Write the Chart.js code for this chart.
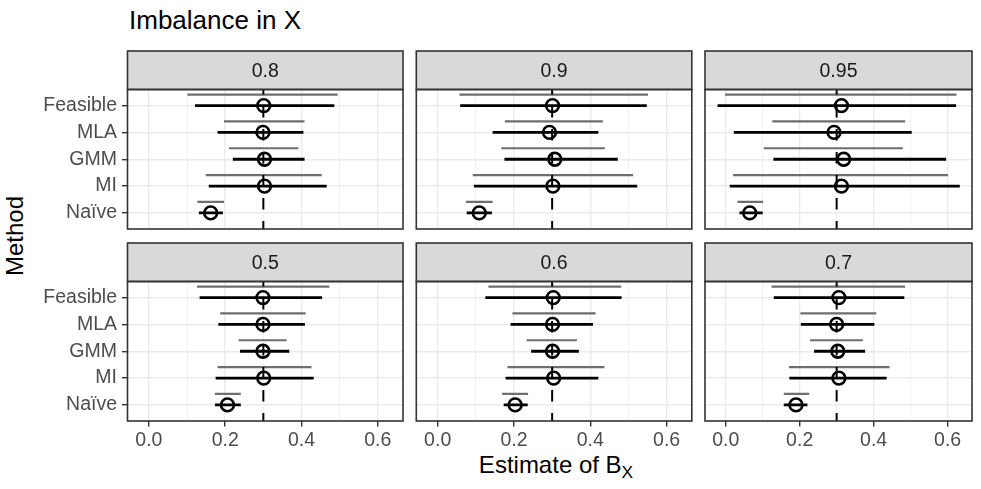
<!DOCTYPE html>
<html>
<head>
<meta charset="utf-8">
<script src="https://cdn.jsdelivr.net/npm/chart.js@4.4.1/dist/chart.umd.min.js"></script>
<style>
  body { margin: 0; background: #fff; }
  #wrap { position: relative; width: 981px; height: 489px; overflow: hidden; font-family: "Liberation Sans", Arial, sans-serif; }
  #wrap canvas { position: absolute; left: 0; top: 0; }
  .txt { position: absolute; white-space: nowrap; color: #000; line-height: 1; }
  sub { font-size: 72%; vertical-align: -0.3em; }
</style>
</head>
<body>
<div id="wrap">
  <div class="txt" style="left:129px; top:7px; font-size:26px;">Imbalance in X</div>
  <div class="txt" style="left:15px; top:236px; font-size:24px; transform:translate(-50%,-50%) rotate(-90deg);">Method</div>
  <div class="txt" style="left:556px; top:467px; font-size:24px; transform:translate(-50%,-50%);">Estimate of B<sub>X</sub></div>
</div>
<script>
// data
const methods = ['Feasible', 'MLA', 'GMM', 'MI', 'Naïve'];
const panelLabels = ['0.8', '0.9', '0.95', '0.5', '0.6', '0.7'];
const trueValue = 0.3;
const estimate = [
  [0.301, 0.299, 0.303, 0.303, 0.162],
  [0.301, 0.293, 0.307, 0.302, 0.109],
  [0.313, 0.293, 0.319, 0.313, 0.065],
  [0.299, 0.299, 0.299, 0.301, 0.206],
  [0.303, 0.301, 0.301, 0.304, 0.203],
  [0.306, 0.300, 0.303, 0.306, 0.190]
];
const blackLow = [
  [0.121, 0.180, 0.220, 0.157, 0.131],
  [0.059, 0.144, 0.175, 0.095, 0.076],
  [-0.022, 0.022, 0.129, 0.011, 0.037],
  [0.133, 0.182, 0.239, 0.175, 0.173],
  [0.125, 0.191, 0.245, 0.178, 0.173],
  [0.130, 0.203, 0.239, 0.172, 0.157]
];
const blackHigh = [
  [0.486, 0.405, 0.408, 0.466, 0.194],
  [0.548, 0.421, 0.472, 0.523, 0.142],
  [0.623, 0.503, 0.596, 0.633, 0.100],
  [0.454, 0.409, 0.368, 0.432, 0.241],
  [0.482, 0.407, 0.370, 0.421, 0.236],
  [0.483, 0.402, 0.377, 0.435, 0.221]
];
const greyLow = [
  [0.101, 0.197, 0.210, 0.149, 0.127],
  [0.057, 0.176, 0.167, 0.092, 0.074],
  [-0.002, 0.126, 0.103, 0.020, 0.032],
  [0.126, 0.187, 0.235, 0.180, 0.173],
  [0.133, 0.196, 0.233, 0.183, 0.169],
  [0.124, 0.202, 0.228, 0.171, 0.157]
];
const greyHigh = [
  [0.495, 0.408, 0.392, 0.453, 0.197],
  [0.551, 0.433, 0.438, 0.512, 0.144],
  [0.624, 0.485, 0.479, 0.601, 0.101],
  [0.473, 0.411, 0.361, 0.426, 0.241],
  [0.481, 0.414, 0.365, 0.437, 0.237],
  [0.485, 0.407, 0.371, 0.443, 0.226]
];
const xGrid = [0, 0.1, 0.2, 0.3, 0.4, 0.5, 0.6];

// layout of the 2x3 facet grid
const W = 981, H = 489;
const colLeft = [127.5, 416.3, 705];
const panelW = 275.5;
const stripTop = [51, 243];
const stripH = 38.5;
const panelH = 139.5;
const xAxisH = 36;
const font = '"Liberation Sans", Arial, sans-serif';

const isMajor = v => Math.round(v * 10) % 2 === 0;

// strip on top + dark border round the panel
const panelFrame = {
  id: 'panelFrame',
  afterDraw(chart, args, opts) {
    const { ctx, chartArea: a } = chart;
    ctx.save();
    ctx.fillStyle = '#D9D9D9';
    ctx.fillRect(a.left, a.top - stripH, a.width, stripH);
    ctx.strokeStyle = '#333333';
    ctx.lineWidth = 1.6;
    ctx.strokeRect(a.left, a.top - stripH, a.width, stripH);
    ctx.strokeRect(a.left, a.top, a.width, a.height);
    ctx.fillStyle = '#1A1A1A';
    ctx.font = '19.5px ' + font;
    ctx.textAlign = 'center';
    ctx.textBaseline = 'middle';
    ctx.fillText(opts.label, a.left + a.width / 2, a.top - stripH / 2 + 1);
    ctx.restore();
  }
};

function segments(lo, hi, shift) {
  const out = [];
  lo.forEach((v, i) => {
    const y = i + 1 + shift;
    out.push({ x: v, y: y }, { x: hi[i], y: y }, { x: hi[i], y: null });
  });
  return out;
}

const wrap = document.getElementById('wrap');

panelLabels.forEach((label, p) => {
  const r = p < 3 ? 0 : 1;
  const c = p % 3;
  const top = stripTop[r] + stripH;
  const yAxisW = c === 0 ? colLeft[0] : 0;
  const xH = r === 1 ? xAxisH : 0;
  const cv = document.createElement('canvas');
  cv.width = W;
  cv.height = H;
  wrap.appendChild(cv);

  new Chart(cv, {
    type: 'line',
    data: {
      datasets: [
        {
          data: estimate[p].map((v, i) => ({ x: v, y: i + 1 })),
          showLine: false,
          pointRadius: 6.4,
          pointBorderWidth: 2.6,
          pointBorderColor: '#000',
          pointBackgroundColor: 'rgba(0,0,0,0)',
          order: 0
        },
        {
          data: segments(blackLow[p], blackHigh[p], 0),
          borderColor: '#000',
          borderWidth: 2.8,
          pointRadius: 0,
          spanGaps: false,
          order: 1
        },
        {
          data: [{ x: trueValue, y: 5.6 }, { x: trueValue, y: 0.4 }],
          borderColor: '#000',
          borderWidth: 2,
          borderDash: [11.5, 11.5],
          borderDashOffset: 3.5,
          pointRadius: 0,
          order: 2
        },
        {
          data: segments(greyLow[p], greyHigh[p], -0.41),
          borderColor: '#6E6E6E',
          borderWidth: 2.2,
          pointRadius: 0,
          spanGaps: false,
          order: 3
        }
      ]
    },
    options: {
      responsive: false,
      animation: false,
      events: [],
      layout: {
        padding: {
          left: colLeft[c] - yAxisW,
          top: top,
          right: W - colLeft[c] - panelW,
          bottom: H - top - panelH - xH
        }
      },
      scales: {
        x: {
          type: 'linear',
          min: -0.056,
          max: 0.666,
          afterBuildTicks: s => { s.ticks = xGrid.map(v => ({ value: v })); },
          afterFit: s => { s.height = xH; },
          border: { display: false },
          grid: {
            color: '#EBEBEB',
            lineWidth: ctx => isMajor(ctx.tick.value) ? 1.4 : 0.7,
            drawTicks: r === 1,
            tickLength: 5.5,
            tickWidth: 1.4,
            tickColor: ctx => isMajor(ctx.tick.value) ? '#333333' : 'rgba(0,0,0,0)'
          },
          ticks: {
            display: r === 1,
            autoSkip: false,
            maxRotation: 0,
            padding: 2,
            color: '#4D4D4D',
            font: { family: font, size: 19.5 },
            callback: v => isMajor(v) ? v.toFixed(1) : ''
          }
        },
        y: {
          type: 'linear',
          reverse: true,
          min: 0.4,
          max: 5.6,
          afterBuildTicks: s => { s.ticks = methods.map((m, i) => ({ value: i + 1 })); },
          afterFit: s => { s.width = yAxisW; },
          border: { display: false },
          grid: {
            color: '#EBEBEB',
            lineWidth: 1.4,
            drawTicks: c === 0,
            tickLength: 5.5,
            tickWidth: 1.4,
            tickColor: '#333333'
          },
          ticks: {
            display: c === 0,
            autoSkip: false,
            padding: 5,
            color: '#4D4D4D',
            font: { family: font, size: 19.5 },
            callback: v => methods[v - 1]
          }
        }
      },
      plugins: {
        legend: { display: false },
        tooltip: { enabled: false },
        panelFrame: { label: label }
      }
    },
    plugins: [panelFrame]
  });
});
</script>
</body>
</html>
